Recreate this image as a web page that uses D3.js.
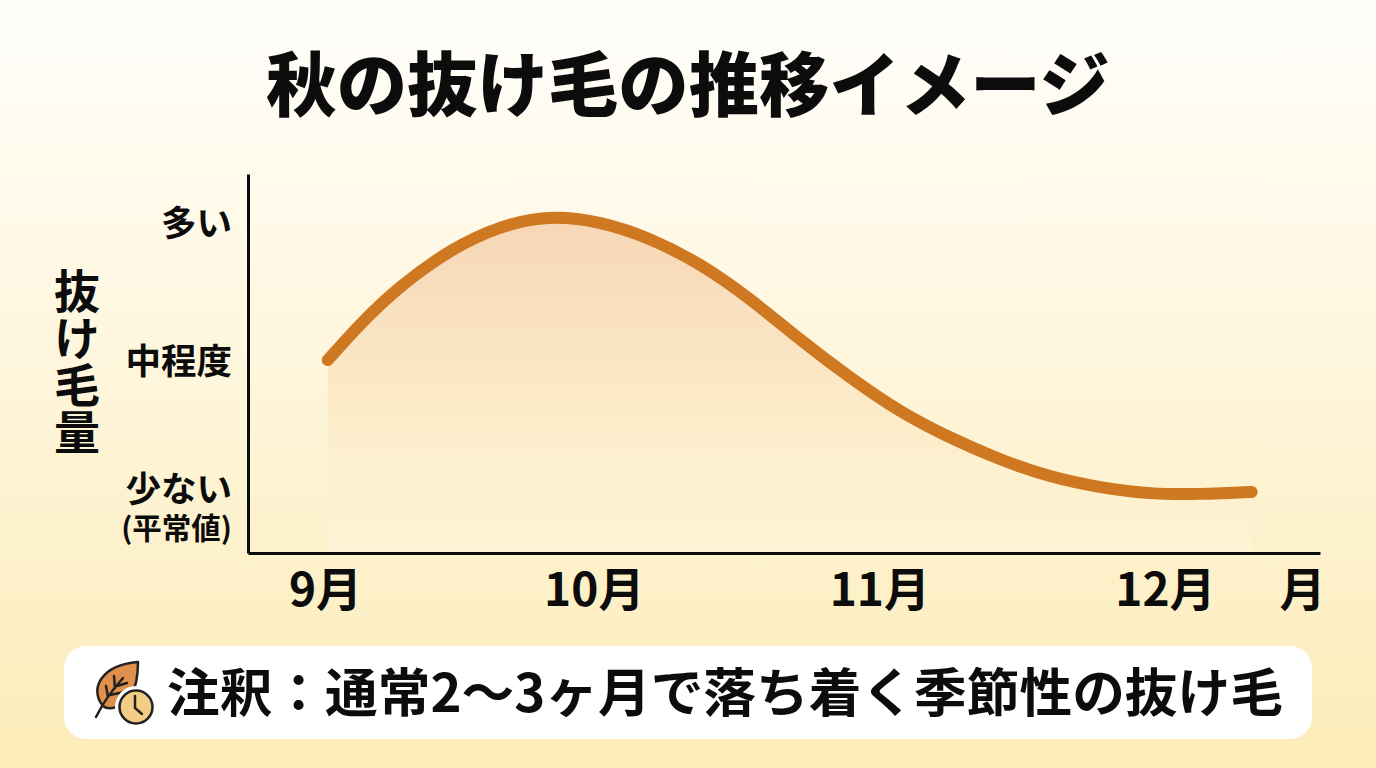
<!DOCTYPE html>
<html lang="ja">
<head>
<meta charset="utf-8">
<script src="https://cdn.jsdelivr.net/npm/d3@7"></script>
<style>
html, body { margin: 0; padding: 0; overflow: hidden; }
text { font-family: "Noto Sans CJK JP", sans-serif; fill: #0c0c0c; }
</style>
</head>
<body>
<div id="graph"></div>
<script>
// values (month as a fraction, amount 0-100)
var months = [9.01, 9.125, 9.27, 9.45, 9.625, 9.8, 9.98, 10.16, 10.34, 10.52, 10.7, 10.875, 11.05, 11.23, 11.41, 11.59, 11.77, 11.95, 12.125, 12.31];
var amounts = [50.9, 60.2, 70.2, 79.7, 85.8, 88.4, 87.1, 82.8, 76.0, 66.8, 56.2, 46.4, 37.7, 30.6, 24.8, 20.3, 17.4, 15.8, 15.6, 16.1];

var xTicks = [9, 9.96, 10.98, 12, 12.49];
var xTickLabels = ["9月", "10月", "11月", "12月", "月"];
var yTicks = [86.8, 50.3, 16.7];
var yTickLabels = ["多い", "中程度", "少ない"];
var yTickSub = "(平常値)";

var titleText = "秋の抜け毛の推移イメージ";
var yTitle = "抜け毛量";
var noteText = "注釈：通常2〜3ヶ月で落ち着く季節性の抜け毛";

var width = 1376;
var height = 768;

var data = months.map(function(m, i) { return {month: m, amount: amounts[i]}; });

var svg = d3.select("#graph").append("svg")
    .attr("width", width)
    .attr("height", height)
    .style("display", "block");

var defs = svg.append("defs");

// page background
var bg = defs.append("linearGradient").attr("id", "bg")
    .attr("x1", 0).attr("y1", 0).attr("x2", 0).attr("y2", 1);
bg.append("stop").attr("offset", "0%").attr("stop-color", "#fffefb");
bg.append("stop").attr("offset", "30%").attr("stop-color", "#fff9e8");
bg.append("stop").attr("offset", "100%").attr("stop-color", "#fcecb8");
svg.append("rect").attr("width", width).attr("height", height).attr("fill", "url(#bg)");

var xScale = d3.scaleLinear()
    .domain([8.725, 12.554])
    .range([248, 1320]);

var yScale = d3.scaleLinear()
    .domain([0, 100])
    .range([553, 174]);

// area under the line
var fade = defs.append("linearGradient").attr("id", "fade")
    .attr("gradientUnits", "userSpaceOnUse")
    .attr("x1", 0).attr("y1", yScale(90)).attr("x2", 0).attr("y2", yScale(0));
fade.append("stop").attr("offset", "0%").attr("stop-color", "#e8995c").attr("stop-opacity", 0.38);
fade.append("stop").attr("offset", "45%").attr("stop-color", "#eca765").attr("stop-opacity", 0.2);
fade.append("stop").attr("offset", "75%").attr("stop-color", "#fbe8c0").attr("stop-opacity", 0.2);
fade.append("stop").attr("offset", "100%").attr("stop-color", "#fff8e0").attr("stop-opacity", 0.6);

var area = d3.area()
    .x(function(d) { return xScale(d.month); })
    .y0(yScale(0))
    .y1(function(d) { return yScale(d.amount); })
    .curve(d3.curveNatural);

var line = d3.line()
    .x(function(d) { return xScale(d.month); })
    .y(function(d) { return yScale(d.amount); })
    .curve(d3.curveNatural);

svg.append("path").datum(data).attr("d", area).attr("fill", "url(#fade)");

svg.append("path").datum(data)
    .attr("d", line)
    .attr("fill", "none")
    .attr("stroke", "#cf7822")
    .attr("stroke-width", 12)
    .attr("stroke-linecap", "round");

// axes
var xAxis = svg.append("g")
    .attr("transform", "translate(0," + yScale(0) + ")")
    .call(d3.axisBottom(xScale)
        .tickValues(xTicks)
        .tickFormat(function(d, i) { return xTickLabels[i]; })
        .tickSize(0)
        .tickPadding(20));

var yAxis = svg.append("g")
    .attr("transform", "translate(248,0)")
    .call(d3.axisLeft(yScale)
        .tickValues(yTicks)
        .tickFormat(function(d, i) { return yTickLabels[i]; })
        .tickSize(0)
        .tickPadding(16));

svg.selectAll(".domain").attr("stroke", "#0c0c0c").attr("stroke-width", 3);
xAxis.selectAll("text").style("font-family", "'Noto Sans CJK JP'").style("font-size", "46px").style("font-weight", 700).attr("fill", "#0c0c0c");
yAxis.selectAll("text").style("font-family", "'Noto Sans CJK JP'").style("font-size", "35.5px").style("font-weight", 700).attr("fill", "#0c0c0c");

// second line under the lowest y label
yAxis.selectAll(".tick:last-of-type text").append("tspan")
    .attr("x", -16)
    .attr("dy", 37)
    .style("font-size", "29.5px")
    .text(yTickSub);

// title
svg.append("text")
    .attr("x", 688).attr("y", 111)
    .attr("text-anchor", "middle")
    .style("font-size", "70.4px")
    .style("font-weight", 900)
    .text(titleText);

// y title, vertical
svg.append("text")
    .attr("transform", "translate(77,268)")
    .style("writing-mode", "vertical-rl")
    .style("font-size", "46px")
    .style("font-weight", 700)
    .style("letter-spacing", "1px")
    .text(yTitle);

// note box
svg.append("rect")
    .attr("x", 64).attr("y", 646)
    .attr("width", 1248).attr("height", 93)
    .attr("rx", 22)
    .attr("fill", "#ffffff");

svg.append("text")
    .attr("x", 167).attr("y", 712)
    .style("font-size", "52.7px")
    .style("font-weight", 700)
    .text(noteText);

// leaf and clock icon
var icon = svg.append("g").attr("transform", "translate(95,661)");
icon.append("path")
    .attr("d", "M8 45 C-6 28 6 4 43 1 C43 14 41 26 36 36 C28 46 14 50 8 45 Z")
    .attr("fill", "#e0904a").attr("stroke", "#222").attr("stroke-width", 2.5).attr("stroke-linejoin", "round");
icon.append("path")
    .attr("d", "M1 56 C8 42 18 28 28 17 M13 36 L11 25 M20 27 L19 15 M15 34 L29 31 M22 25 L32 22")
    .attr("fill", "none").attr("stroke", "#222").attr("stroke-width", 2.5).attr("stroke-linecap", "round");
icon.append("circle").attr("cx", 41).attr("cy", 46).attr("r", 21).attr("fill", "#fff");
icon.append("circle").attr("cx", 41).attr("cy", 46).attr("r", 16.5)
    .attr("fill", "#f3cd85").attr("stroke", "#222").attr("stroke-width", 2.5);
icon.append("path").attr("d", "M40 35 L40 47 L47 53")
    .attr("fill", "none").attr("stroke", "#222").attr("stroke-width", 2.5).attr("stroke-linecap", "round");
</script>
</body>
</html>
